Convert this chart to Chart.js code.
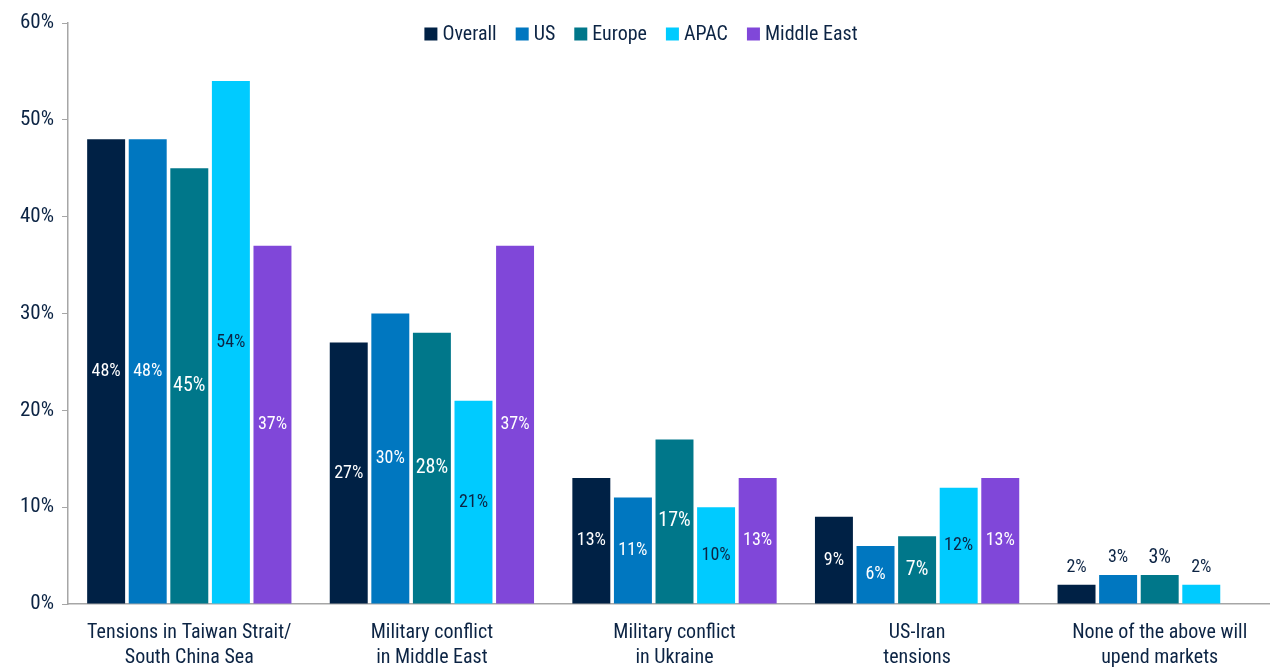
<!DOCTYPE html>
<html>
<head>
<meta charset="utf-8">
<script src="https://cdn.jsdelivr.net/npm/chart.js@4"></script>
<style>
  html, body { margin: 0; padding: 0; background: #fff; overflow: hidden; }
  #wrap { width: 1281px; height: 668px; }
</style>
</head>
<body>
<div id="wrap"><canvas id="myChart"></canvas></div>
<script>
const FONT = '"Liberation Sans Narrow", "Roboto Condensed", "Liberation Sans", sans-serif';
const NAVY = '#0c2444';

const categories = [
  ['Tensions in Taiwan Strait/', 'South China Sea'],
  ['Military conflict', 'in Middle East'],
  ['Military conflict', 'in Ukraine'],
  ['US-Iran', 'tensions'],
  ['None of the above will', 'upend markets']
];
const seriesNames = ['Overall', 'US', 'Europe', 'APAC', 'Middle East'];
const seriesColors = ['#002145', '#0077c0', '#00778a', '#00cbff', '#8047d9'];
const overall = [48, 27, 13, 9, 2];
const us = [48, 30, 11, 6, 3];
const europe = [45, 28, 17, 7, 3];
const apac = [54, 21, 10, 12, 2];
const middleEast = [37, 37, 13, 13, 0];
const yTicks = [0, 10, 20, 30, 40, 50, 60];

const seriesValues = [overall, us, europe, apac, middleEast];

// labels inside the bar are centred; short bars get them on top
const barLabels = {
  id: 'barLabels',
  afterDatasetsDraw(chart) {
    const c = chart.ctx;
    c.save();
    c.textAlign = 'center';
    c.textBaseline = 'middle';
    chart.data.datasets.forEach((ds, di) => {
      const meta = chart.getDatasetMeta(di);
      meta.data.forEach((bar, i) => {
        const v = ds.data[i];
        if (!v) return;
        const size = di === 2 ? 20 : 18;
        c.font = size + 'px ' + FONT;
        if (v < 5) {
          c.fillStyle = NAVY;
          c.fillText(v + '%', bar.x, bar.y - 17);
        } else {
          c.fillStyle = di === 3 ? NAVY : '#ffffff';
          c.fillText(v + '%', bar.x, (bar.y + bar.base) / 2);
        }
      });
    });
    c.restore();
  }
};

// legend sits over the plot area, so draw it by hand
const topLegend = {
  id: 'topLegend',
  afterDraw(chart) {
    const c = chart.ctx;
    c.save();
    c.font = '20px ' + FONT;
    c.textBaseline = 'middle';
    const box = 13, gap = 5, spacing = 19;
    const widths = chart.data.datasets.map(ds => box + gap + c.measureText(ds.label).width);
    const total = widths.reduce((a, b) => a + b, 0) + spacing * (widths.length - 1);
    let x = 641 - total / 2;
    const y = 34;
    chart.data.datasets.forEach((ds, i) => {
      c.fillStyle = ds.backgroundColor;
      c.fillRect(x, y - box / 2, box, box);
      c.fillStyle = NAVY;
      c.fillText(ds.label, x + box + gap, y + 1);
      x += widths[i] + spacing;
    });
    c.restore();
  }
};

new Chart(document.getElementById('myChart'), {
  type: 'bar',
  data: {
    labels: categories,
    datasets: seriesNames.map((name, i) => ({
      label: name,
      data: seriesValues[i],
      backgroundColor: seriesColors[i],
      categoryPercentage: 0.857,
      barPercentage: 0.913
    }))
  },
  options: {
    responsive: true,
    maintainAspectRatio: false,
    animation: false,
    layout: { padding: { top: 23, right: 0, left: 0, bottom: 0 } },
    plugins: {
      legend: { display: false },
      tooltip: { enabled: false }
    },
    scales: {
      x: {
        grid: { display: false },
        border: { color: '#a6a6a6', width: 1.5 },
        ticks: {
          color: NAVY,
          font: { family: FONT, size: 20, lineHeight: 1.25 },
          padding: 8,
          maxRotation: 0,
          autoSkip: false
        },
        afterFit(scale) { scale.height = 64; }
      },
      y: {
        min: 0,
        max: 60,
        afterBuildTicks(scale) { scale.ticks = yTicks.map(v => ({ value: v })); },
        grid: { drawOnChartArea: false, drawTicks: true, tickLength: 6, color: '#a6a6a6' },
        border: { color: '#a6a6a6', width: 1.5 },
        ticks: {
          color: NAVY,
          font: { family: FONT, size: 21 },
          padding: 8,
          callback: v => v + '%'
        },
        afterFit(scale) { scale.width = 68; }
      }
    }
  },
  plugins: [barLabels, topLegend]
});
</script>
</body>
</html>
